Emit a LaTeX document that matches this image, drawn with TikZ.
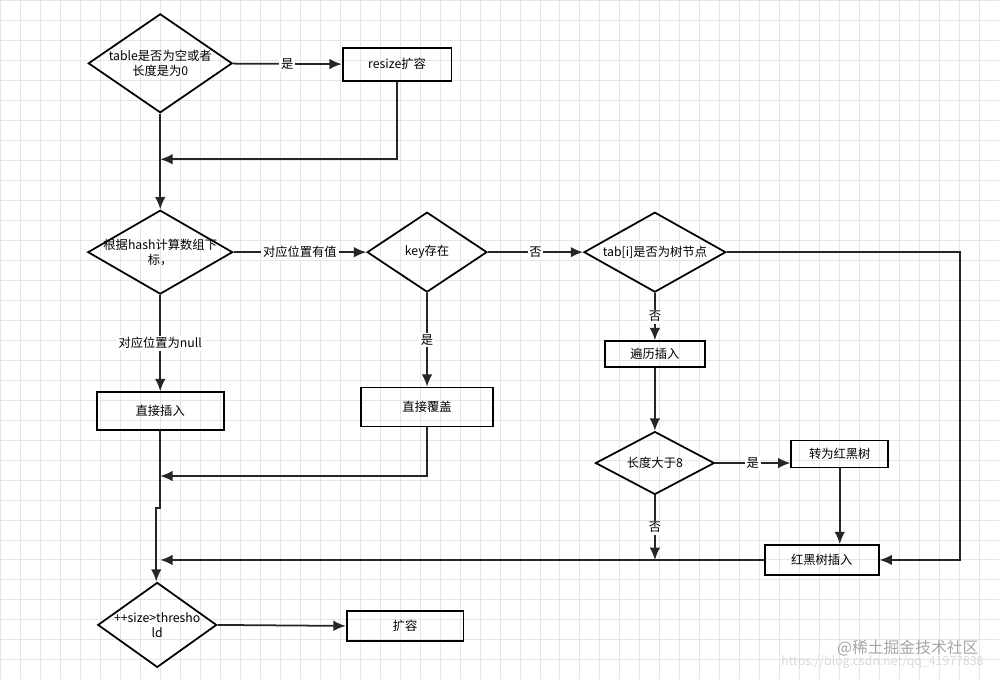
\documentclass[tikz,border=0pt]{standalone}
\usepackage{fontspec}
\setmainfont{Noto Sans CJK SC}
\usetikzlibrary{shapes,calc,arrows,arrows.meta,positioning}
\tikzset{
  box/.style={draw, line width=1pt, rectangle, inner sep=1pt, font=\fontsize{7}{8.5}\selectfont},
  dec/.style={draw, line width=1pt, diamond, inner sep=0pt, align=center, font=\fontsize{7}{8.5}\selectfont},
  lab/.style={fill=white, inner sep=1pt, font=\fontsize{7}{8.5}\selectfont},
  line/.style={line width=1pt, draw=black!85},
}
\begin{document}
\begin{tikzpicture}[x=0.02cm, y=-0.02cm, >={Latex[length=7pt,width=6pt]}]
\fill[white] (0,0) rectangle (999,679);
\draw[black!10] (0,0) grid[step=0.4cm] (999,679);
\useasboundingbox (0,0) rectangle (999,679);
% decisions
\node[dec, inner sep=-12pt, aspect=1.5, minimum width=2.88cm, minimum height=1.98cm] (isempty) at (160,63) {table是否为空或者\\长度是为0};
\node[dec, inner sep=-14pt, aspect=1.7, minimum width=2.9cm, minimum height=1.68cm] (hash) at (160,252) {根据hash计算数组下\\标，};
\node[dec, minimum width=2.4cm, aspect=1.5, minimum height=1.6cm] (keyin) at (427,252) {key存在};
\node[dec, inner sep=-12pt, aspect=1.8, minimum width=2.84cm, minimum height=1.6cm] (istree) at (655,252) {tab[i]是否为树节点};
\node[dec, minimum width=2.38cm, aspect=1.9, minimum height=1.26cm] (isbig) at (655,463) {长度大于8};
\node[dec, inner sep=-10pt, aspect=1.4, minimum width=2.38cm, minimum height=1.7cm] (size) at (157,625) {++size>thresho\\ld};
% boxes
\node[box, minimum width=2.18cm, minimum height=0.66cm] (resize) at (397,64) {resize扩容};
\node[box, minimum width=2.54cm, minimum height=0.76cm] (put) at (160,411) {直接插入};
\node[box, minimum width=2.64cm, minimum height=0.78cm] (cover) at (427,407) {直接覆盖};
\node[box, minimum width=2cm, minimum height=0.52cm] (loop) at (655,354) {遍历插入};
\node[box, minimum width=1.94cm, minimum height=0.54cm] (totree) at (840,454) {转为红黑树};
\node[box, minimum width=2.28cm, minimum height=0.6cm] (treeput) at (822,560) {红黑树插入};
\node[box, minimum width=2.34cm, minimum height=0.6cm] (grow) at (405,626) {扩容};
% join points
\coordinate (j1) at (160,159);
\coordinate (j2) at (160,476);
\coordinate (j3) at (160,560);
\coordinate (j4) at (655,560);
\coordinate (r1) at (960,252);
% connectors
\draw[line,->] (isempty) -- node[lab] {是} (resize);
\draw[line,->] (resize.south) |- (j1);
\draw[line,->] (isempty.south) -- (hash.north);
\draw[line,->] (hash) -- node[lab] {对应位置有值} (keyin);
\draw[line,->] (keyin) -- node[lab] {否} (istree);
\draw[line,->] (hash.south) -- node[lab] {对应位置为null} (put.north);
\draw[line,->] (keyin.south) -- node[lab] {是} (cover.north);
\draw[line,->] (cover.south) |- (j2);
\draw[line,->] (istree.south) -- node[lab] {否} (loop.north);
\draw[line,->] (istree.east) -- (r1) |- (treeput.east);
\draw[line,->] (loop.south) -- (isbig.north);
\draw[line,->] (isbig.east) -- node[lab] {是} (isbig.east -| totree.west);
\draw[line,->] (totree.south -| 840,0) -- (treeput.north -| 840,0);
\draw[line,->] (isbig.south) -- node[lab] {否} (j4);
\draw[line,->] (treeput.west) -- (j3);
\draw[line,->] (put.south) -- (160,508) -- (156,508) -- (size.north -| 156,0);
\draw[line,->] (size.east) -- (grow.west);
% watermark
\node[text=black!35, font=\fontsize{9}{10}\selectfont, anchor=east] (mark) at (985,648) {@稀土掘金技术社区};
\node[text=black!15, font=\fontsize{7}{8}\selectfont, anchor=east] (url) at (990,662) {https://blog.csdn.net/qq\_41977838};
\end{tikzpicture}
\end{document}
